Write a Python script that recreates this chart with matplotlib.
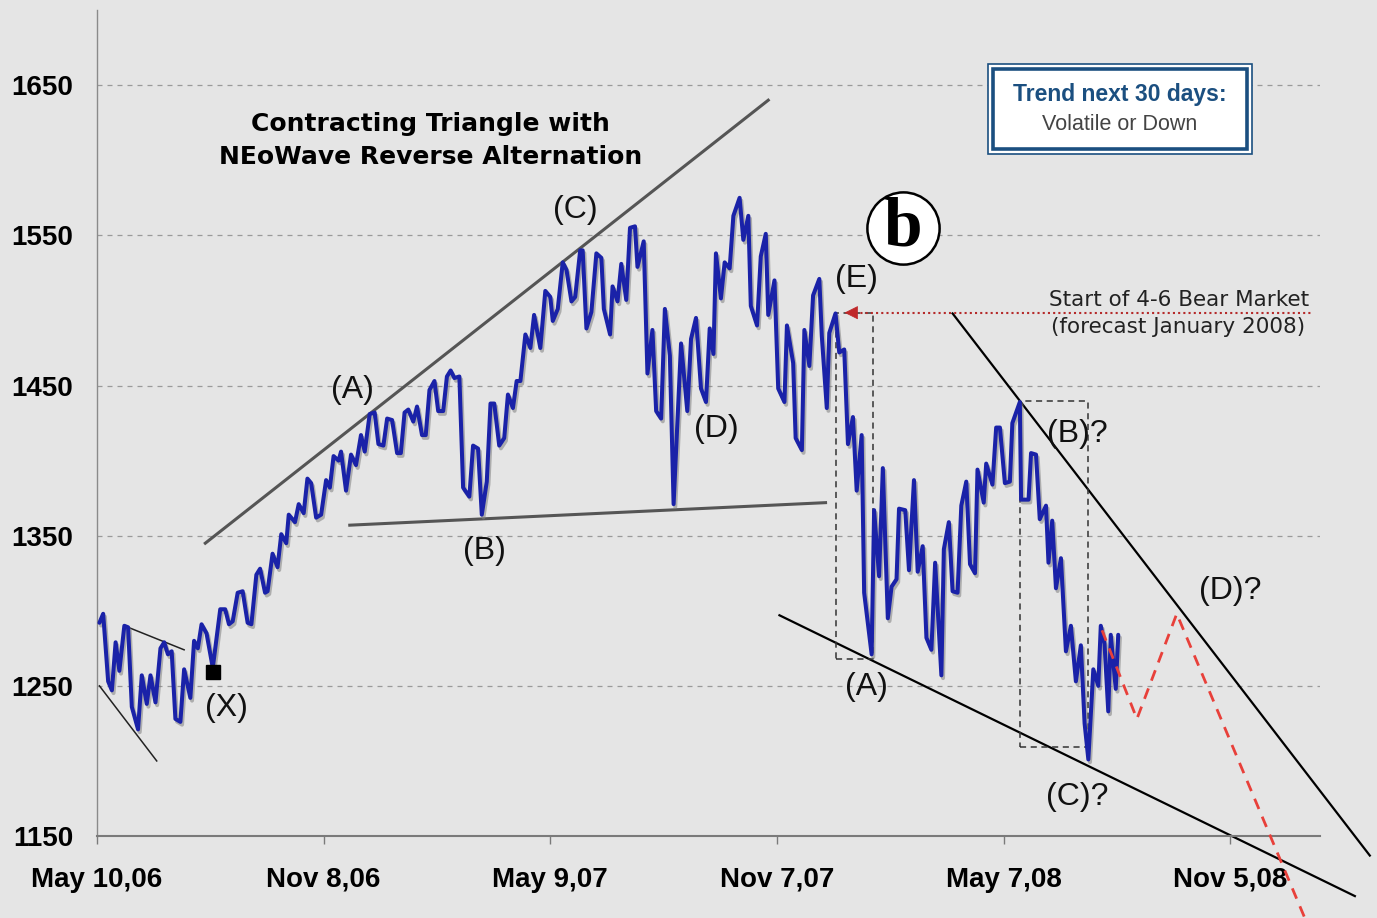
import numpy as np
import matplotlib
matplotlib.use("Agg")
import matplotlib.pyplot as plt
import matplotlib.patheffects as pe
from matplotlib import font_manager as fm
from matplotlib.patches import Rectangle

# ---- data (days after May 10, 2006 / index level) ----
start = np.datetime64("2006-05-10")
days = [2, 5, 9, 12, 15, 18, 22, 25, 28, 33,
        36, 40, 43, 47, 51, 54, 57, 60, 63, 67,
        70, 75, 78, 81, 84, 88, 93, 99, 103, 106,
        109, 113, 117, 121, 124, 128, 131, 135, 137, 141,
        145, 148, 152, 154, 159, 162, 166, 169, 172, 176,
        180, 184, 187, 190, 194, 196, 200, 204, 208, 212,
        215, 219, 223, 226, 230, 233, 237, 241, 244, 247,
        250, 254, 257, 261, 264, 267, 271, 274, 278, 281,
        284, 287, 291, 294, 299, 302, 306, 309, 313, 316,
        319, 323, 327, 330, 334, 337, 340, 344, 348, 351,
        356, 360, 364, 366, 370, 374, 377, 381, 384, 388,
        390, 393, 397, 401, 405, 407, 412, 414, 418, 421,
        425, 428, 432, 434, 439, 442, 446, 449, 453, 456,
        460, 463, 469, 474, 477, 481, 485, 489, 492, 495,
        497, 501, 504, 508, 511, 516, 519, 523, 525, 530,
        533, 537, 539, 544, 547, 552, 554, 559, 561, 566,
        568, 572, 575, 580, 582, 586, 588, 593, 596, 600,
        603, 607, 610, 614, 616, 622, 624, 628, 631, 635,
        638, 642, 644, 649, 652, 656, 659, 663, 666, 670,
        673, 678, 680, 684, 687, 691, 694, 698, 701, 705,
        707, 712, 714, 719, 722, 725, 729, 733, 735, 741,
        742, 748, 750, 754, 757, 762, 764, 767, 770, 774,
        778, 782, 786, 790, 793, 796, 800, 804, 806, 809,
        812, 814, 818, 820]
values = [1292, 1298, 1253, 1247, 1279, 1260, 1290, 1289, 1236, 1221,
          1257, 1238, 1257, 1239, 1275, 1279, 1271, 1273, 1228, 1226,
          1261, 1242, 1280, 1275, 1291, 1285, 1262, 1301, 1301, 1291,
          1293, 1312, 1313, 1292, 1291, 1324, 1328, 1312, 1313, 1338,
          1329, 1351, 1345, 1364, 1359, 1371, 1365, 1388, 1385, 1362,
          1364, 1387, 1382, 1403, 1400, 1406, 1380, 1404, 1397, 1417,
          1406, 1431, 1432, 1411, 1410, 1428, 1427, 1405, 1405, 1432,
          1434, 1426, 1436, 1417, 1417, 1447, 1453, 1433, 1433, 1456,
          1460, 1455, 1456, 1382, 1376, 1410, 1408, 1364, 1386, 1438,
          1438, 1410, 1415, 1444, 1435, 1453, 1453, 1484, 1475, 1497,
          1475, 1513, 1509, 1493, 1501, 1532, 1527, 1506, 1509, 1540,
          1540, 1488, 1499, 1538, 1535, 1501, 1484, 1516, 1506, 1531,
          1507, 1555, 1556, 1529, 1546, 1458, 1487, 1433, 1428, 1501,
          1470, 1371, 1478, 1433, 1481, 1495, 1448, 1439, 1488, 1471,
          1538, 1508, 1532, 1528, 1563, 1575, 1547, 1563, 1503, 1490,
          1536, 1551, 1497, 1520, 1448, 1439, 1490, 1465, 1415, 1407,
          1487, 1463, 1510, 1521, 1483, 1435, 1485, 1498, 1472, 1474,
          1411, 1429, 1380, 1417, 1312, 1271, 1367, 1323, 1395, 1295,
          1316, 1321, 1368, 1367, 1327, 1387, 1326, 1343, 1282, 1274,
          1332, 1257, 1341, 1359, 1313, 1312, 1370, 1386, 1331, 1325,
          1394, 1372, 1398, 1384, 1422, 1422, 1385, 1386, 1425, 1439,
          1374, 1374, 1405, 1404, 1361, 1370, 1332, 1360, 1315, 1335,
          1273, 1290, 1253, 1277, 1225, 1201, 1261, 1250, 1290, 1278,
          1233, 1284, 1248, 1284]

tick_dates = ["2006-05-10", "2006-11-08", "2007-05-09",
              "2007-11-07", "2008-05-07", "2008-11-05"]
tick_labels = ["May 10,06", "Nov 8,06", "May 9,07",
               "Nov 7,07", "May 7,08", "Nov 5,08"]
y_ticks = [1150, 1250, 1350, 1450, 1550, 1650]

# wave-count lines (day, level)
tri_upper = ([87, 539], [1345, 1640])
tri_lower = ([203, 585], [1357, 1372])
wedge_upper = ([22, 70], [1290, 1274])
wedge_lower = ([2, 48], [1250, 1200])
chan_upper = ([687, 1022], [1498, 1137])
chan_lower = ([548, 1010], [1297, 1110])
forecast = ([807, 835, 867, 970], [1287, 1228, 1298, 1095])
box_a = ([593, 623], [1268, 1498])
box_b = ([741, 796], [1209, 1440])
x_point = (93, 1259)
bear_level = 1498.5

wave_labels = [("(A)", 205, 1447), ("(B)", 311, 1340), ("(C)", 384, 1567),
               ("(D)", 497, 1421), ("(E)", 610, 1521), ("(X)", 104, 1235),
               ("(A)", 618, 1249), ("(B)?", 787, 1418), ("(C)?", 787, 1176),
               ("(D)?", 910, 1313)]

# ---- fonts ----
installed = {f.name for f in fm.fontManager.ttflist}
sans = "Liberation Sans" if "Liberation Sans" in installed else "DejaVu Sans"
serif = "Liberation Serif" if "Liberation Serif" in installed else "DejaVu Serif"

def d(x):
    return start + np.array(x, dtype="timedelta64[D]")

bg = "#e5e5e5"
fig = plt.figure(figsize=(13.77, 9.18), dpi=100, facecolor=bg)
ax = fig.add_axes([0.0704, 0.0893, 0.8882, 0.8997], facecolor=bg)

ax.set_ylim(1150, 1700)
ax.set_xlim(start, start + np.timedelta64(982, "D"))

for lev in y_ticks[1:]:
    ax.axhline(lev, color="#9a9a9a", lw=0.9, ls=(0, (4, 4)), zorder=0)

# wave lines
ax.plot(d(tri_upper[0]), tri_upper[1], color="#555555", lw=2.2, zorder=2)
ax.plot(d(tri_lower[0]), tri_lower[1], color="#555555", lw=2.2, zorder=2)
ax.plot(d(wedge_upper[0]), wedge_upper[1], color="#222222", lw=1.1, zorder=2)
ax.plot(d(wedge_lower[0]), wedge_lower[1], color="#222222", lw=1.1, zorder=2)
ax.plot(d(chan_upper[0]), chan_upper[1], color="black", lw=1.6, zorder=2, clip_on=False)
ax.plot(d(chan_lower[0]), chan_lower[1], color="black", lw=1.6, zorder=2, clip_on=False)

for bx in (box_a, box_b):
    xs = [bx[0][0], bx[0][1], bx[0][1], bx[0][0], bx[0][0]]
    ys = [bx[1][0], bx[1][0], bx[1][1], bx[1][1], bx[1][0]]
    ax.plot(d(xs), ys, color="#333333", lw=1.1, ls=(0, (4, 3)), zorder=2)

# price line with shadow
ax.plot(d(days), values, color="#1a22a8", lw=2.9, zorder=4,
        solid_joinstyle="round", solid_capstyle="round",
        path_effects=[pe.SimpleLineShadow(offset=(1.2, -2.0), shadow_color="#808080", alpha=0.55),
                      pe.Normal()])

ax.plot(d(forecast[0]), forecast[1], color="#e8403a", lw=2.0, ls=(0, (4, 3)),
        zorder=5, clip_on=False)

ax.plot(d([x_point[0]]), [x_point[1]], marker="s", ms=9.5, color="black", zorder=6)

# bear market start marker
ax.plot(d([605, 976]), [bear_level, bear_level], color="#b52a2a", lw=1.5,
        ls=(0, (1, 1.5)), zorder=5)
ax.annotate("", xy=(d(598), bear_level), xytext=(d(612), bear_level),
            arrowprops=dict(arrowstyle="-|>", color="#c0282a", lw=0.5,
                            mutation_scale=22), zorder=6)

# texts
for txt, xd, yv in wave_labels:
    ax.text(d(xd), yv, txt, fontsize=23, family=sans, color="#111111",
            ha="center", va="center", zorder=7)

ax.text(d(268), 1624, "Contracting Triangle with", fontsize=18,
        fontweight="bold", family="DejaVu Sans", ha="center", va="center")
ax.text(d(268), 1602, "NEoWave Reverse Alternation", fontsize=18,
        fontweight="bold", family="DejaVu Sans", ha="center", va="center")

ax.plot(d([647]), [1555], marker="o", ms=52, mfc="white", mec="black",
        mew=1.8, zorder=6)
ax.text(d(647), 1554.5, "b", fontsize=50, fontweight="bold", family=serif,
        ha="center", va="center", zorder=7)

ax.text(d(973), 1507, "Start of 4-6 Bear Market", fontsize=15.5,
        family="DejaVu Sans", ha="right", va="center", color="#222222")
ax.text(d(970), 1489, "(forecast January 2008)", fontsize=15.5,
        family="DejaVu Sans", ha="right", va="center", color="#222222")

# trend box
W, H = 1377.0, 918.0
fig.add_artist(Rectangle((988 / W, (918 - 154) / H), 264 / W, 90 / H,
                         transform=fig.transFigure, facecolor="white",
                         edgecolor="#1b4f80", lw=1.2))
fig.add_artist(Rectangle((993 / W, (918 - 149) / H), 254 / W, 80 / H,
                         transform=fig.transFigure, facecolor="white",
                         edgecolor="#1b4f80", lw=2.6))
fig.text(1120 / W, (918 - 94) / H, "Trend next 30 days:", fontsize=16.5,
         fontweight="bold", family=sans, color="#1b4f80", ha="center", va="center")
fig.text(1120 / W, (918 - 124) / H, "Volatile or Down", fontsize=15.5,
         family=sans, color="#444444", ha="center", va="center")

# axes styling
for s in ("top", "right"):
    ax.spines[s].set_visible(False)
ax.spines["left"].set_color("#8a8a8a")
ax.spines["left"].set_linewidth(1.0)
ax.spines["bottom"].set_color("#7a7a7a")
ax.spines["bottom"].set_linewidth(1.5)

ax.set_yticks(y_ticks)
ax.set_yticklabels([str(v) for v in y_ticks])
ax.set_xticks(d([(np.datetime64(t) - start).astype(int) for t in tick_dates]))
ax.set_xticklabels(tick_labels)
ax.tick_params(axis="y", length=0, pad=17)
ax.tick_params(axis="x", length=6, width=1, color="#7a7a7a", pad=16)
for lab in ax.get_xticklabels() + ax.get_yticklabels():
    lab.set_fontfamily(sans)
    lab.set_fontweight("bold")
    lab.set_fontsize(20)
    lab.set_color("black")

fig.savefig("out.png", dpi=100, facecolor=bg)
